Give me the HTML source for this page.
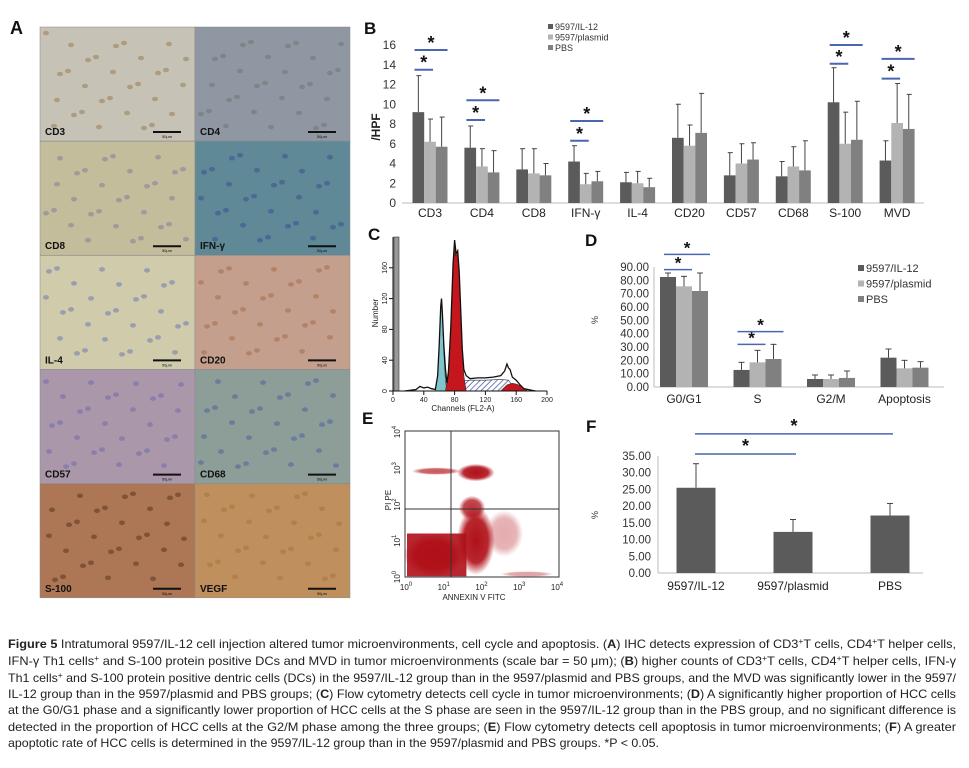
<!DOCTYPE html>
<html><head><meta charset="utf-8"><style>
html,body{margin:0;padding:0;background:#fff;}
svg{display:block;font-family:"Liberation Sans",sans-serif;}
</style></head><body>
<svg id="fig" width="969" height="768" viewBox="0 0 969 768" xmlns="http://www.w3.org/2000/svg">
<defs>
<pattern id="hatch" width="4" height="4" patternUnits="userSpaceOnUse" patternTransform="rotate(45)"><rect width="4" height="4" fill="#fff"/><line x1="0" y1="0" x2="0" y2="4" stroke="#5060a8" stroke-width="1.6"/></pattern>
<radialGradient id="blobR"><stop offset="0" stop-color="#b01018" stop-opacity="1"/><stop offset="0.65" stop-color="#b01018" stop-opacity="0.9"/><stop offset="1" stop-color="#b01018" stop-opacity="0"/></radialGradient>
</defs>
<rect x="0" y="0" width="969" height="768" fill="#fff"/>
<g id="panelA"></g>
<g id="panelB"></g>
<g id="panelC"></g>
<g id="panelD"></g>
<g id="panelE"></g>
<g id="panelF"></g>
<g id="caption" font-size="12" fill="#222">
<text x="8" y="648" textLength="948" lengthAdjust="spacingAndGlyphs"><tspan font-weight="bold">Figure 5</tspan> Intratumoral 9597/IL-12 cell injection altered tumor microenvironments, cell cycle and apoptosis. (<tspan font-weight="bold">A</tspan>) IHC detects expression of CD3<tspan dy="-4" font-size="8">+</tspan><tspan dy="4">T cells, CD4</tspan><tspan dy="-4" font-size="8">+</tspan><tspan dy="4">T helper cells,</tspan></text>
<text x="8" y="665" textLength="948" lengthAdjust="spacingAndGlyphs">IFN-γ Th1 cells<tspan dy="-4" font-size="8">+</tspan><tspan dy="4"> and S-100 protein positive DCs and MVD in tumor microenvironments (scale bar = 50 μm); (</tspan><tspan font-weight="bold">B</tspan>) higher counts of CD3<tspan dy="-4" font-size="8">+</tspan><tspan dy="4">T cells, CD4</tspan><tspan dy="-4" font-size="8">+</tspan><tspan dy="4">T helper cells, IFN-γ</tspan></text>
<text x="8" y="682" textLength="948" lengthAdjust="spacingAndGlyphs">Th1 cells<tspan dy="-4" font-size="8">+</tspan><tspan dy="4"> and S-100 protein positive dentric cells (DCs) in the 9597/IL-12 group than in the 9597/plasmid and PBS groups, and the MVD was significantly lower in the 9597/</tspan></text>
<text x="8" y="698" textLength="948" lengthAdjust="spacingAndGlyphs">IL-12 group than in the 9597/plasmid and PBS groups; (<tspan font-weight="bold">C</tspan>) Flow cytometry detects cell cycle in tumor microenvironments; (<tspan font-weight="bold">D</tspan>) A significantly higher proportion of HCC cells</text>
<text x="8" y="714" textLength="948" lengthAdjust="spacingAndGlyphs">at the G0/G1 phase and a significantly lower proportion of HCC cells at the S phase are seen in the 9597/IL-12 group than in the PBS group, and no significant difference is</text>
<text x="8" y="731" textLength="948" lengthAdjust="spacingAndGlyphs">detected in the proportion of HCC cells at the G2/M phase among the three groups; (<tspan font-weight="bold">E</tspan>) Flow cytometry detects cell apoptosis in tumor microenvironments; (<tspan font-weight="bold">F</tspan>) A greater</text>
<text x="8" y="747" textLength="651" lengthAdjust="spacingAndGlyphs">apoptotic rate of HCC cells is determined in the 9597/IL-12 group than in the 9597/plasmid and PBS groups. *P &lt; 0.05.</text>
</g>
</svg>
<script>
var NS='http://www.w3.org/2000/svg';
function mk(tag,attrs,parent){var e=document.createElementNS(NS,tag);for(var k in attrs)e.setAttribute(k,attrs[k]);parent.appendChild(e);return e;}
function txt(s,attrs,parent){var e=mk('text',attrs,parent);e.textContent=s;return e;}

// ---------- Panel B data ----------
var catsB=['CD3','CD4','CD8','IFN-γ','IL-4','CD20','CD57','CD68','S-100','MVD'];
var il12B=[9.2,5.6,3.4,4.2,2.1,6.6,2.8,2.7,10.2,4.3];
var plasB=[6.2,3.7,3.0,1.9,2.0,5.8,4.0,3.7,6.0,8.1];
var pbsB=[5.7,3.1,2.8,2.2,1.6,7.1,4.4,3.3,6.4,7.5];
var il12ErrB=[12.9,7.8,5.5,5.8,3.1,10.0,5.1,4.2,13.7,6.3];
var plasErrB=[8.5,5.5,5.5,3.0,3.2,7.9,6.0,5.7,9.2,12.1];
var pbsErrB=[8.7,5.3,4.0,3.2,2.5,11.1,6.1,6.3,10.3,11.0];
var ticksB=[0,2,4,6,8,10,12,14,16];
var sigCatB=[0,0,1,1,3,3,8,8,9,9];
var sigLvlB=[13.5,15.5,8.4,10.4,6.3,8.3,14.1,16.0,12.6,14.6];
var sigSpanB=[2,3,2,3,2,3,2,3,2,3];
// ---------- Panel D data ----------
var catsD=['G0/G1','S','G2/M','Apoptosis'];
var il12D=[82.5,12.8,6.0,22.0];
var plasD=[75.5,18.5,6.0,14.0];
var pbsD=[72.0,21.0,6.8,14.5];
var il12ErrD=[85.5,18.5,9.0,28.5];
var plasErrD=[83.0,27.5,9.0,20.0];
var pbsErrD=[85.5,32.0,12.0,19.0];
var ticksD=[0,10,20,30,40,50,60,70,80,90];
var sigCatD=[0,0,1,1];
var sigLvlD=[88,99.5,32,41.5];
var sigSpanD=[2,3,2,3];
// ---------- Panel F data ----------
var catsF=['9597/IL-12','9597/plasmid','PBS'];
var valsF=[25.5,12.3,17.2];
var errF=[32.7,16.0,20.8];
var ticksF=[0,5,10,15,20,25,30,35];
var sigFromF=[0,0];
var sigToF=[1,2];
var sigLvlF=[35.6,41.6];
// ---------- Panel C data (channel, count) ----------
var cyanCh=[55,58,60,62,63,64,66,68,70];
var cyanN=[0,20,60,110,118,100,50,15,0];
var g1Ch=[68,72,75,78,80,82,84,86,88,90,92,95];
var g1N=[0,20,80,160,192,175,178,150,100,50,20,0];
var sCh=[72,80,100,120,140,150,160];
var sN=[0,12,14,14,15,14,0];
var g2Ch=[140,148,155,160,165,170,175];
var g2N=[0,8,10,9,7,3,0];
var outCh=[15,30,35,40,45,50,55,58,60,62,63,64,66,68,70,72,75,78,80,82,84,86,88,90,92,95,100,110,120,130,140,145,148,150,152,155,160,165,170,180,185];
var outN=[0,2,6,4,5,3,2,20,60,110,120,104,60,30,10,25,82,165,196,178,182,155,104,54,28,20,16,17,17,18,20,26,35,30,28,18,14,8,3,1,0];
var ticksCx=[0,40,80,120,160,200];
var ticksCy=[0,40,80,120,160];
// ---------- Panel E data (log10 coords) ----------
var clusterX=[0.75,1.85,1.85,0.8,1.75,2.6,3.2];
var clusterY=[0.6,2.88,1.0,2.92,1.9,1.2,0.08];
var clusterRX=[0.8,0.5,0.5,0.65,0.35,0.5,0.7];
var clusterRY=[0.55,0.2,0.9,0.06,0.3,0.6,0.04];
var clusterDen=[1,1,1,0.7,0.85,0.35,0.4];

var g,i,k;
// ================= Panel A =================
var A=document.getElementById('panelA');
var tLabels=['CD3','CD4','CD8','IFN-γ','IL-4','CD20','CD57','CD68','S-100','VEGF'];
var tColors=['#c6c3b6','#8f97a2','#c4bd9c','#5f8997','#cfcbab','#c59f8d','#ab97aa','#8d9e98','#ad7654','#bf8f5e'];
var tDots=['#8a6030','#6a6a60','#6a6a9a','#2a3a90','#4a5cb8','#9a5a30','#5a5ab0','#3a4aa0','#3a2010','#a06a30'];
txt('A',{x:10,y:34,'font-size':18,'font-weight':'bold',fill:'#111'},A);
for(i=0;i<10;i++){
  var c=i%2,r=Math.floor(i/2),x0=c?195:40,y0=27+r*114.2,w=155,h=114;
  var tile=mk('g',{},A);
  
  
  mk('rect',{x:x0,y:y0,width:w,height:h,fill:tColors[i],stroke:'#888','stroke-width':0.5},tile);
  for(k=0;k<30;k++){
    var px=x0+6+(((k*97+i*41)*37)%143),py=y0+6+(((k*61+i*17)*29)%96);
    mk('ellipse',{cx:px,cy:py,rx:3,ry:2.3,fill:tDots[i],opacity:0.4},tile);
  }
  txt(tLabels[i],{x:x0+5,y:y0+h-6,'font-size':10,'font-weight':'bold',fill:'#111'},tile);
  mk('line',{x1:x0+w-42,y1:y0+h-9,x2:x0+w-14,y2:y0+h-9,stroke:'#111','stroke-width':2},tile);
  txt('50μm',{x:x0+w-28,y:y0+h-3,'font-size':4,'text-anchor':'middle',fill:'#111'},tile);
}

// ================= Panel B =================
var B=document.getElementById('panelB');
function yB(v){return 203-v*158/16;}
function xB(i){return 430+i*51.9;}
var offB=[-17.5,-5.8,5.8],bw=11.7;
var colIL='#5b5b5b',colPl='#b3b3b3',colPB='#808080',colSig='#4a66b0';
txt('B',{x:364,y:34,'font-size':17,'font-weight':'bold',fill:'#111'},B);
mk('line',{x1:402,y1:203,x2:924,y2:203,stroke:'#bbb','stroke-width':1},B);
for(i=0;i<ticksB.length;i++){
  var tl=txt(String(ticksB[i]),{x:396,y:yB(ticksB[i])+4,'font-size':12,'text-anchor':'end',fill:'#333'},B);
  
  
}
var yt=txt('/HPF',{x:0,y:0,'font-size':12,'font-weight':'bold',fill:'#222',transform:'translate(380,127) rotate(-90)','text-anchor':'middle'},B);

var seriesB=[il12B,plasB,pbsB],errB=[il12ErrB,plasErrB,pbsErrB],colsB=[colIL,colPl,colPB];
for(i=0;i<catsB.length;i++){
  for(k=0;k<3;k++){
    var bx=xB(i)+offB[k];
    var br=mk('rect',{x:bx,y:yB(seriesB[k][i]),width:bw,height:yB(0)-yB(seriesB[k][i]),fill:colsB[k]},B);
    
    
    mk('line',{x1:bx+bw/2,y1:yB(seriesB[k][i]),x2:bx+bw/2,y2:yB(errB[k][i]),stroke:'#444','stroke-width':1},B);
    mk('line',{x1:bx+bw/2-2,y1:yB(errB[k][i]),x2:bx+bw/2+3,y2:yB(errB[k][i]),stroke:'#444','stroke-width':1},B);
  }
  var cl=txt(catsB[i],{x:xB(i),y:217,'font-size':12,'text-anchor':'middle',fill:'#222'},B);
  
  
}
for(i=0;i<sigCatB.length;i++){
  var sx0=xB(sigCatB[i])+offB[0]+2,sx1=sigSpanB[i]==2?xB(sigCatB[i])+offB[1]+bw/2+3:xB(sigCatB[i])+offB[2]+bw;
  var sl=mk('line',{x1:sx0,y1:yB(sigLvlB[i]),x2:sx1,y2:yB(sigLvlB[i]),stroke:colSig,'stroke-width':2},B);
  
  txt('*',{x:(sx0+sx1)/2,y:yB(sigLvlB[i])-1,'font-size':18,'font-weight':'bold','text-anchor':'middle',fill:'#111'},B);
}
var legB=mk('g',{},B);


var legNames=['9597/IL-12','9597/plasmid','PBS'];
for(k=0;k<3;k++){
  mk('rect',{x:548,y:24+k*10.5,width:5,height:5,fill:colsB[k]},legB);
  var le=txt(legNames[k],{x:555,y:30+k*10.5,'font-size':9,fill:'#333'},legB);
  
}

// ================= Panel C =================
var C=document.getElementById('panelC');
function xC(ch){return 393+ch*0.77;}
function yC(n){return 391-n*0.77;}
txt('C',{x:368,y:240,'font-size':17,'font-weight':'bold',fill:'#111'},C);
function poly(chs,ns){var d='M'+xC(chs[0])+','+yC(0);for(var j=0;j<chs.length;j++)d+=' L'+xC(chs[j])+','+yC(ns[j]);d+=' L'+xC(chs[chs.length-1])+','+yC(0)+'Z';return d;}
mk('path',{d:poly(sCh,sN),fill:'url(#hatch)',stroke:'#333','stroke-width':0.6},C);
mk('path',{d:poly(cyanCh,cyanN),fill:'#7fc6cc',stroke:'#333','stroke-width':0.6},C);
mk('path',{d:poly(g1Ch,g1N),fill:'#c4161c',stroke:'#333','stroke-width':0.6},C);
mk('path',{d:poly(g2Ch,g2N),fill:'#c4161c',stroke:'#333','stroke-width':0.6},C);
var od='M'+xC(outCh[0])+','+yC(outN[0]);
for(i=1;i<outCh.length;i++)od+=' L'+xC(outCh[i])+','+yC(outN[i]);
mk('path',{d:od,fill:'none',stroke:'#111','stroke-width':1.3},C);
mk('rect',{x:394,y:237,width:5,height:154,fill:'#999',stroke:'#333','stroke-width':0.6},C);
mk('line',{x1:393,y1:391,x2:547,y2:391,stroke:'#111','stroke-width':1},C);
mk('line',{x1:393,y1:237,x2:393,y2:391,stroke:'#111','stroke-width':1},C);
for(i=0;i<ticksCx.length;i++){
  mk('line',{x1:xC(ticksCx[i]),y1:391,x2:xC(ticksCx[i]),y2:395,stroke:'#111'},C);
  var tc=txt(String(ticksCx[i]),{x:xC(ticksCx[i]),y:402,'font-size':7,'text-anchor':'middle',fill:'#222'},C);
  
}
for(i=0;i<ticksCy.length;i++){
  mk('line',{x1:389,y1:yC(ticksCy[i]),x2:393,y2:yC(ticksCy[i]),stroke:'#111'},C);
  var tyc=txt(String(ticksCy[i]),{x:0,y:0,'font-size':7,'text-anchor':'middle',fill:'#222',transform:'translate(387,'+yC(ticksCy[i])+') rotate(-90)'},C);
  
}
txt('Number',{x:0,y:0,'font-size':8,'text-anchor':'middle',fill:'#222',transform:'translate(378,313) rotate(-90)'},C);
txt('Channels (FL2-A)',{x:463,y:411,'font-size':8,'text-anchor':'middle',fill:'#222'},C);

// ================= Panel D =================
var D=document.getElementById('panelD');
function yD(v){return 387-v*120/90;}
function xD(i){return 684+i*73.5;}
var offD=[-24,-8,8],bwD=16;
txt('D',{x:585,y:246,'font-size':17,'font-weight':'bold',fill:'#111'},D);
mk('line',{x1:654,y1:387,x2:944,y2:387,stroke:'#bbb'},D);
mk('line',{x1:654,y1:267,x2:654,y2:387,stroke:'#bbb'},D);
for(i=0;i<ticksD.length;i++){
  var td=txt(ticksD[i].toFixed(2),{x:649,y:yD(ticksD[i])+4,'font-size':11.5,'text-anchor':'end',fill:'#333'},D);
  
}
txt('%',{x:0,y:0,'font-size':9,'text-anchor':'middle',fill:'#333',transform:'translate(598,320) rotate(-90)'},D);
var seriesD=[il12D,plasD,pbsD],errD=[il12ErrD,plasErrD,pbsErrD];
for(i=0;i<catsD.length;i++){
  for(k=0;k<3;k++){
    var bxd=xD(i)+offD[k];
    var brd=mk('rect',{x:bxd,y:yD(seriesD[k][i]),width:bwD,height:yD(0)-yD(seriesD[k][i]),fill:colsB[k]},D);
    
    
    mk('line',{x1:bxd+bwD/2,y1:yD(seriesD[k][i]),x2:bxd+bwD/2,y2:yD(errD[k][i]),stroke:'#444'},D);
    mk('line',{x1:bxd+bwD/2-3,y1:yD(errD[k][i]),x2:bxd+bwD/2+3,y2:yD(errD[k][i]),stroke:'#444'},D);
  }
  var cd=txt(catsD[i],{x:xD(i),y:403,'font-size':12,'text-anchor':'middle',fill:'#222'},D);
  
}
for(i=0;i<sigCatD.length;i++){
  var dx0=xD(sigCatD[i])+offD[0]+4,dx1=sigSpanD[i]==2?xD(sigCatD[i])+offD[1]+bwD:xD(sigCatD[i])+offD[2]+bwD+2;
  mk('line',{x1:dx0,y1:yD(sigLvlD[i]),x2:dx1,y2:yD(sigLvlD[i]),stroke:colSig,'stroke-width':1.5},D);
  txt('*',{x:(dx0+dx1)/2,y:yD(sigLvlD[i])-1,'font-size':17,'font-weight':'bold','text-anchor':'middle',fill:'#111'},D);
}
var legD=mk('g',{},D);


for(k=0;k<3;k++){
  mk('rect',{x:858,y:265+k*15.5,width:6,height:6,fill:colsB[k]},legD);
  txt(legNames[k],{x:866,y:272+k*15.5,'font-size':11,fill:'#333'},legD);
}

// ================= Panel E =================
var E=document.getElementById('panelE');
function xE(l){return 406+l*(557-406)/4;}
function yE(l){return 577-l*(577-432)/4;}
txt('E',{x:362,y:424,'font-size':17,'font-weight':'bold',fill:'#111'},E);
mk('rect',{x:405,y:431,width:154,height:146,fill:'#fff',stroke:'#333'},E);
mk('rect',{x:407,y:yE(1.2),width:xE(1.6)-407,height:yE(0.02)-yE(1.2),fill:'#b01018',opacity:0.9},E);
for(i=0;i<clusterX.length;i++){
  var ce=mk('ellipse',{cx:xE(clusterX[i]),cy:yE(clusterY[i]),rx:clusterRX[i]*(151/4),ry:clusterRY[i]*(145/4)+1.5,fill:'url(#blobR)',opacity:clusterDen[i]},E);
  
  
}
mk('line',{x1:451,y1:431,x2:451,y2:577,stroke:'#333'},E);
mk('line',{x1:405,y1:509,x2:559,y2:509,stroke:'#333'},E);
for(i=0;i<=4;i++){
  var tx=txt('10',{x:xE(i),y:590,'font-size':8,'text-anchor':'middle',fill:'#222'},E);
  
  var sp=mk('tspan',{dy:-4,'font-size':6},tx);sp.textContent=String(i);
  var ty=txt('10',{x:0,y:0,'font-size':8,'text-anchor':'middle',fill:'#222',transform:'translate(400,'+yE(i)+') rotate(-90)'},E);
  
  var sp2=mk('tspan',{dy:-4,'font-size':6},ty);sp2.textContent=String(i);
}
txt('ANNEXIN V FITC',{x:474,y:600,'font-size':8,'text-anchor':'middle',fill:'#222'},E);
txt('PI PE',{x:0,y:0,'font-size':8,'text-anchor':'middle',fill:'#222',transform:'translate(391,500) rotate(-90)'},E);

// ================= Panel F =================
var F=document.getElementById('panelF');
function yF(v){return 573-v*117/35;}
function xF(i){return 696+i*97;}
var bwF=39;
txt('F',{x:586,y:432,'font-size':17,'font-weight':'bold',fill:'#111'},F);
mk('line',{x1:658,y1:573,x2:923,y2:573,stroke:'#bbb'},F);
mk('line',{x1:658,y1:456,x2:658,y2:573,stroke:'#bbb'},F);
for(i=0;i<ticksF.length;i++){
  txt(ticksF[i].toFixed(2),{x:651,y:yF(ticksF[i])+4,'font-size':11.5,'text-anchor':'end',fill:'#333'},F);
}
txt('%',{x:0,y:0,'font-size':9,'text-anchor':'middle',fill:'#333',transform:'translate(598,515) rotate(-90)'},F);
for(i=0;i<catsF.length;i++){
  var bf=mk('rect',{x:xF(i)-bwF/2,y:yF(valsF[i]),width:bwF,height:yF(0)-yF(valsF[i]),fill:colIL},F);
  
  
  mk('line',{x1:xF(i),y1:yF(valsF[i]),x2:xF(i),y2:yF(errF[i]),stroke:'#444'},F);
  mk('line',{x1:xF(i)-3,y1:yF(errF[i]),x2:xF(i)+3,y2:yF(errF[i]),stroke:'#444'},F);
  txt(catsF[i],{x:xF(i),y:590,'font-size':12,'text-anchor':'middle',fill:'#222'},F);
}
for(i=0;i<sigFromF.length;i++){
  var fx0=xF(sigFromF[i])-1,fx1=xF(sigToF[i])+3;
  mk('line',{x1:fx0,y1:yF(sigLvlF[i]),x2:fx1,y2:yF(sigLvlF[i]),stroke:colSig,'stroke-width':1.5},F);
  txt('*',{x:(fx0+fx1)/2,y:yF(sigLvlF[i])-2,'font-size':18,'font-weight':'bold','text-anchor':'middle',fill:'#111'},F);
}
</script>
</body></html>
